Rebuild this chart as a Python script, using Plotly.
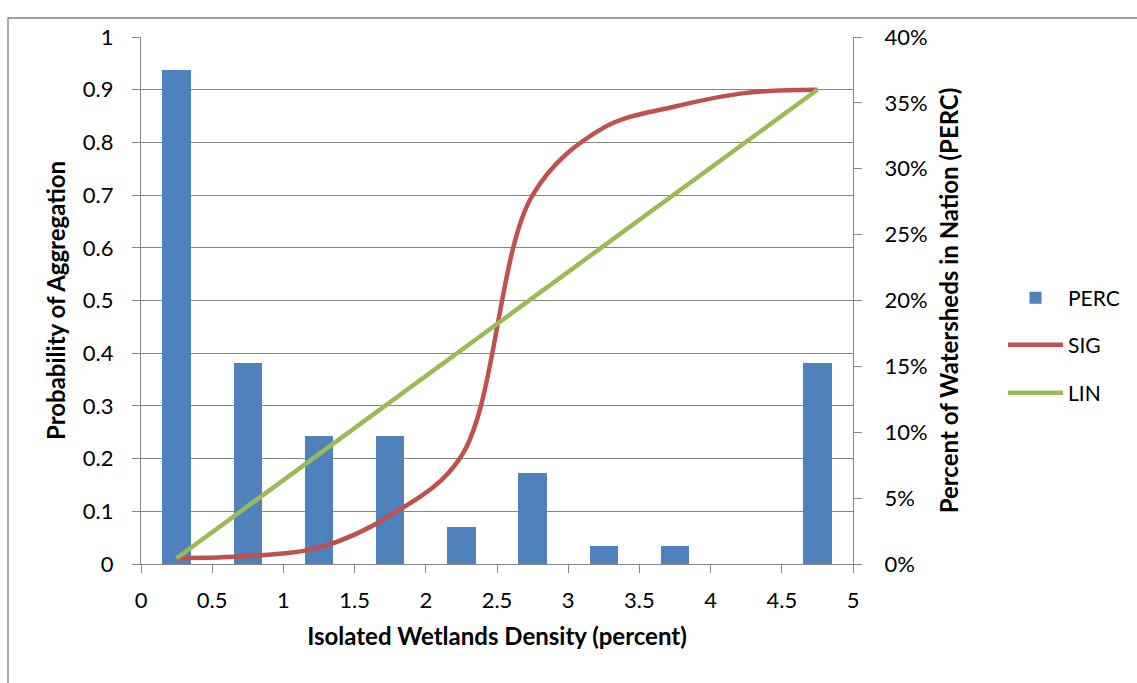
import plotly.graph_objects as go

# Bin centres of isolated wetlands density (percent)
density = [0.25, 0.75, 1.25, 1.75, 2.25, 2.75, 3.25, 3.75, 4.25, 4.75]

# Share of watersheds in the nation falling in each bin
perc = [0.375, 0.1528, 0.0972, 0.0972, 0.0278, 0.0694, 0.0139, 0.0139, 0.0, 0.1528]

# Probability of aggregation: sigmoid and linear schemes
sig = [0.011, 0.015, 0.031, 0.092, 0.205, 0.70, 0.828, 0.868, 0.894, 0.90]
lin = [0.011, 0.11, 0.209, 0.308, 0.407, 0.505, 0.604, 0.703, 0.802, 0.90]

FONT = "Lato"
GRID = "#868686"

# Plot area in pixels (for placing the frame and legends)
PL, PR, PT, PB = 141, 853, 37, 564
W, H = 1137, 683


def px_x(p):
    return (p - PL) / (PR - PL)


def px_y(p):
    return (PB - p) / (PB - PT)


fig = go.Figure()

fig.add_trace(go.Bar(
    x=density, y=perc, name="PERC", width=0.2,
    marker=dict(color="#4F81BD", line=dict(width=0)),
    yaxis="y", legend="legend", showlegend=True,
))
fig.add_trace(go.Scatter(
    x=density, y=sig, name="SIG", mode="lines",
    line=dict(color="#C0504D", width=4.5, shape="spline", smoothing=1.0),
    yaxis="y2", legend="legend2", showlegend=True,
))
fig.add_trace(go.Scatter(
    x=density, y=lin, name="LIN", mode="lines",
    line=dict(color="#9BBB59", width=4.5),
    yaxis="y2", legend="legend3", showlegend=True,
))

axis_font = dict(family=FONT, size=22, color="#000000")
title_font = dict(family=FONT, size=24, color="#000000", weight="bold")

legend_common = dict(
    xanchor="left", yanchor="middle", x=px_x(1003),
    itemwidth=55,
    font=dict(family=FONT, size=21, color="#000000"),
    bgcolor="rgba(0,0,0,0)", borderwidth=0,
)

fig.update_layout(
    width=W, height=H,
    margin=dict(l=PL, r=W - PR, t=PT, b=H - PB, autoexpand=False),
    paper_bgcolor="white", plot_bgcolor="white",
    showlegend=True,
    bargap=0,
    xaxis=dict(
        range=[0, 5], dtick=0.5, tick0=0,
        showgrid=False, zeroline=False,
        showline=True, linecolor=GRID, linewidth=1.3,
        ticks="outside", ticklen=8, tickcolor=GRID, tickwidth=1.3,
        tickfont=axis_font, ticklabelstandoff=8,
        title=dict(text="Isolated Wetlands Density (percent)", font=title_font, standoff=16),
    ),
    yaxis=dict(
        side="right", range=[0, 0.4], dtick=0.05, tick0=0, tickformat=".0%",
        showgrid=False, zeroline=False,
        showline=True, linecolor=GRID, linewidth=1.3,
        ticks="outside", ticklen=8, tickcolor=GRID, tickwidth=1.3,
        tickfont=axis_font, ticklabelstandoff=18,
        title=dict(text="Percent of Watersheds in Nation (PERC)", font=title_font, standoff=14),
    ),
    yaxis2=dict(
        side="left", overlaying="y", range=[0, 1], dtick=0.1, tick0=0,
        showgrid=True, gridcolor=GRID, gridwidth=1.3, zeroline=False,
        showline=True, linecolor=GRID, linewidth=1.3,
        ticks="outside", ticklen=8, tickcolor=GRID, tickwidth=1.3,
        tickfont=axis_font, ticklabelstandoff=14,
        title=dict(text="Probability of Aggregation", font=title_font, standoff=10),
    ),
    legend=dict(y=px_y(298), **legend_common),
    legend2=dict(y=px_y(345), **legend_common),
    legend3=dict(y=px_y(393), **legend_common),
    shapes=[
        # chart frame
        dict(type="rect", xref="paper", yref="paper",
             x0=px_x(8), x1=px_x(W + 10), y0=px_y(H + 10), y1=px_y(18),
             line=dict(color="#7F7F7F", width=1.3), fillcolor="rgba(0,0,0,0)",
             layer="below"),
    ],
)

fig.write_html("out.html")
